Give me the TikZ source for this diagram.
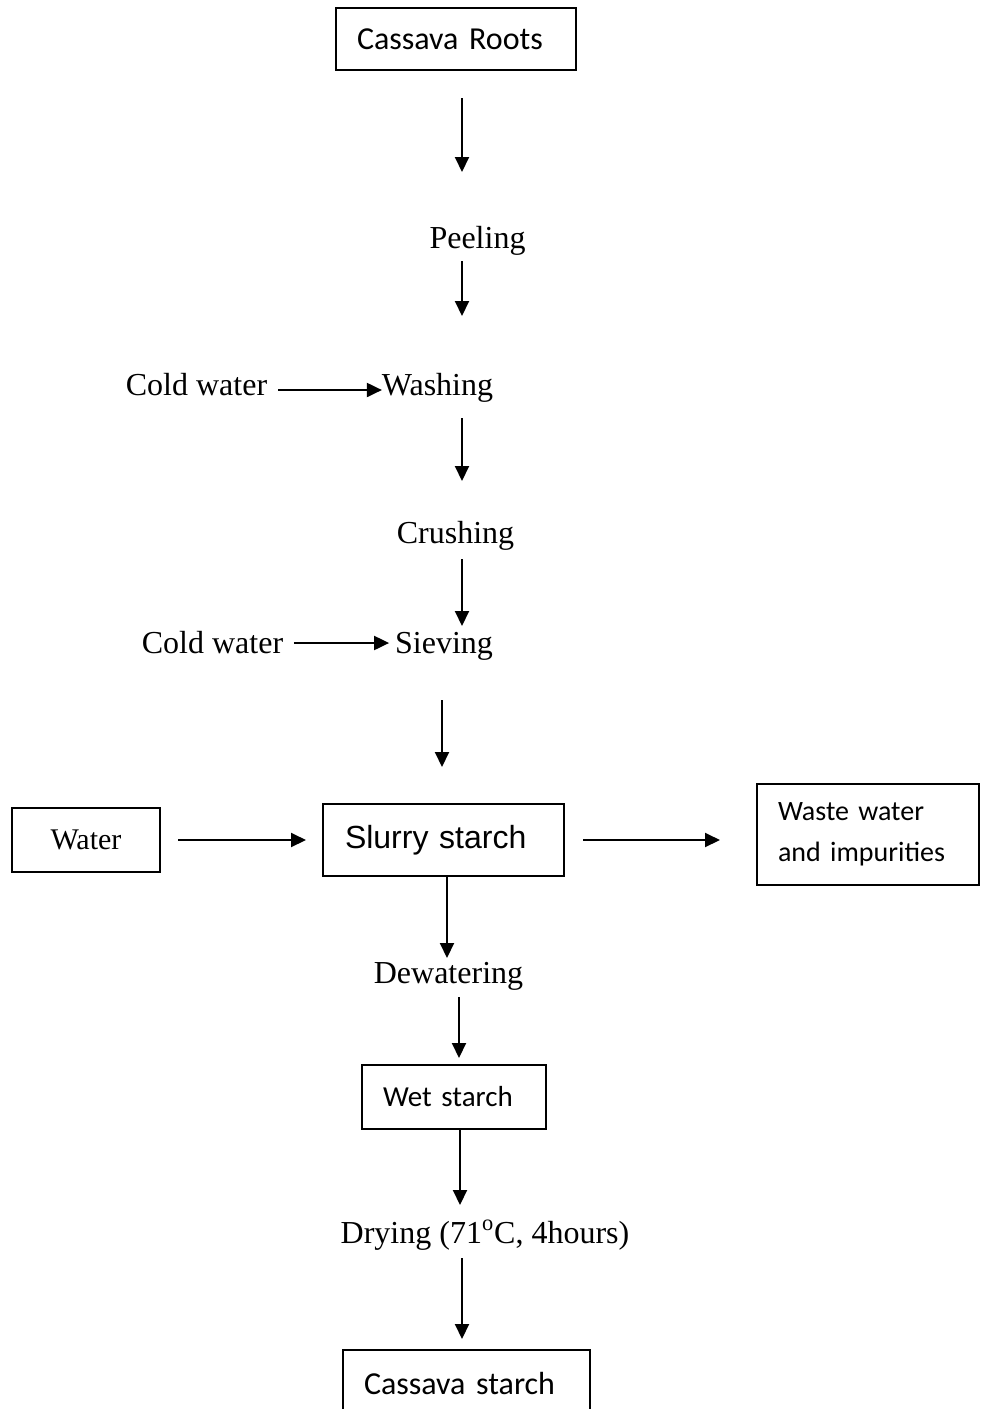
\documentclass[tikz,border=0pt]{standalone}
\usepackage{fontspec}
\setmainfont{Liberation Serif}
\newfontfamily\calibri{Carlito}
\newfontfamily\arial{Liberation Sans}
\usetikzlibrary{arrows.meta}

\begin{document}
\begin{tikzpicture}[x=0.5pt, y=-0.5pt, inner sep=0pt, outer sep=0pt,
  font=\fontsize{16pt}{19pt}\selectfont,
  procbox/.style={draw=black, line width=1pt, align=left, inner ysep=0pt},
  stage/.style={anchor=base},
  flow/.style={draw=black, line width=1pt, -{Triangle[length=7.5pt,width=7pt]}}]
\clip (0,0) rectangle (984,1409);
% boxes
\path (456,39) node[procbox, minimum height=31pt, text width=99pt, inner xsep=10.5pt] (roots) {\calibri\mbox{Cassava Roots}};
\path (86,840) node[procbox, minimum width=74pt, minimum height=32pt, align=center, font=\fontsize{15pt}{18pt}\selectfont] (water) {Water};
\path (443.5,840) node[procbox, minimum height=36pt, text width=98.5pt, inner xsep=11pt] (slurry) {\arial\mbox{Slurry starch}};
\path (868,834.5) node[procbox, minimum height=50.5pt, text width=90pt, inner xsep=10.5pt, font=\calibri\fontsize{14pt}{20.5pt}\selectfont] (waste) {\mbox{Waste water}\\\mbox{and impurities}};
\path (454,1097) node[procbox, minimum height=32pt, text width=71pt, inner xsep=10.5pt, font=\calibri\fontsize{14.5pt}{17pt}\selectfont] (wet) {\mbox{Wet starch}};
\path (466.5,1383) node[procbox, minimum height=33pt, text width=102.5pt, inner xsep=10.5pt] (starch) {\calibri\mbox{Cassava starch}};
% steps
\path (477.5,248) node[stage] (peel) {Peeling};
\path (196.5,395) node[stage] (cold1) {Cold water};
\path (437.5,395) node[stage] (wash) {Washing};
\path (455.5,543) node[stage] (crush) {Crushing};
\path (212.5,653) node[stage] (cold2) {Cold water};
\path (444,653) node[stage] (sieve) {Sieving};
\path (448.5,983) node[stage] (dewat) {Dewatering};
\path (485,1243) node[stage] (dry) {Drying (71\textsuperscript{o}C, 4hours)};
% arrows
\draw[flow] ([xshift=3pt,yshift=-14pt]roots.south) -- ([xshift=-7.75pt,yshift=38pt]peel.base);
\draw[flow] ([xshift=-7.75pt,yshift=-6.5pt]peel.base) -- ([xshift=12.25pt,yshift=39.5pt]wash.base);
\draw[flow] ([xshift=5.5pt,yshift=2.5pt]cold1.base east) -- ([yshift=2.5pt]wash.base west);
\draw[flow] ([xshift=12.25pt,yshift=-11.5pt]wash.base) -- ([xshift=3.25pt,yshift=31pt]crush.base);
\draw[flow] ([xshift=3.25pt,yshift=-8pt]crush.base) -- ([xshift=9pt,yshift=13.5pt]sieve.base);
\draw[flow] ([xshift=5.35pt,yshift=5pt]cold2.base east) -- ([xshift=-3pt,yshift=5pt]sieve.base west);
\draw[flow] ([xshift=-1pt,yshift=-23.5pt]sieve.base) -- ([xshift=-0.75pt,yshift=18.5pt]slurry.north);
\draw[flow] ([xshift=9pt]water.east) -- ([xshift=-8.5pt]slurry.west);
\draw[flow] ([xshift=9.5pt]slurry.east) -- ([xshift=-18.5pt,yshift=-2.75pt]waste.west);
\draw[flow] ([xshift=1.75pt]slurry.south) -- ([xshift=-0.75pt,yshift=12.5pt]dewat.base);
\draw[flow] ([xshift=5.25pt,yshift=-7pt]dewat.base) -- ([xshift=2.5pt,yshift=3.5pt]wet.north);
\draw[flow] ([xshift=3pt]wet.south) -- ([xshift=-12.5pt,yshift=19pt]dry.base);
\draw[flow] ([xshift=-11.5pt,yshift=-7.5pt]dry.base) -- ([xshift=-2.25pt,yshift=5.5pt]starch.north);
\end{tikzpicture}
\end{document}
